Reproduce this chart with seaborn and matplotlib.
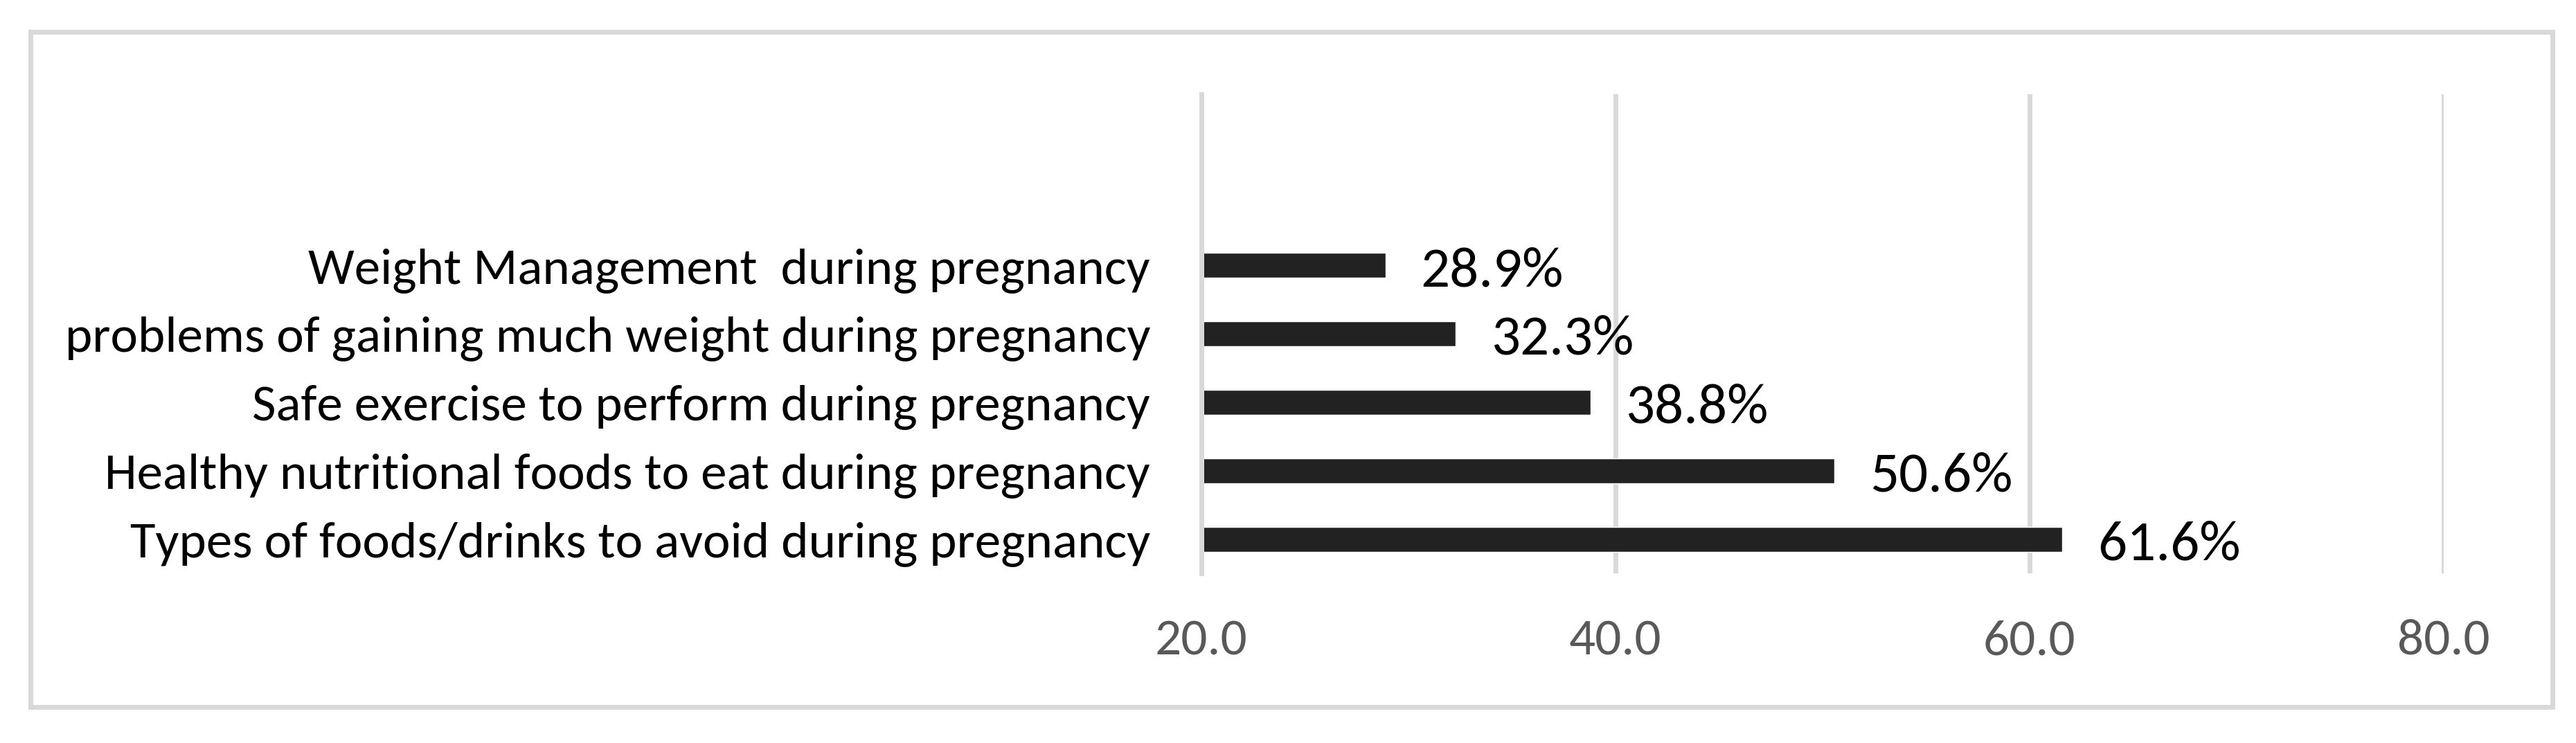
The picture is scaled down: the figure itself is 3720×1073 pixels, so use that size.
import matplotlib
matplotlib.use("Agg")
import matplotlib.pyplot as plt
import seaborn as sns
import pandas as pd
from matplotlib.font_manager import FontProperties
from matplotlib.textpath import TextPath
from matplotlib.patches import Rectangle

# ---- data ----
categories = [
    "Weight Management  during pregnancy",
    "problems of gaining much weight during pregnancy",
    "Safe exercise to perform during pregnancy",
    "Healthy nutritional foods to eat during pregnancy",
    "Types of foods/drinks to avoid during pregnancy",
]
values = [28.9, 32.3, 38.8, 50.6, 61.6]
value_labels = ["28.9%", "32.3%", "38.8%", "50.6%", "61.6%"]
x_ticks = [20.0, 40.0, 60.0, 80.0]
x_tick_labels = ["20.0", "40.0", "60.0", "80.0"]

df = pd.DataFrame({"topic": categories, "pct": values})

# ---- style ----
sns.set_theme(style="white")
FAMILY = ["Carlito", "Liberation Sans Narrow", "Lato", "DejaVu Sans"]
plt.rcParams["font.family"] = FAMILY

DPI = 100
W_PX, H_PX = 3720, 1073


def fit_size(text, target_px):
    fp = FontProperties(family=FAMILY)
    w1 = TextPath((0, 0), text, size=1, prop=fp).get_extents().width
    return target_px * 72.0 / (DPI * w1)


cat_size = fit_size(categories[1], 1561)
tick_size = fit_size(x_tick_labels[0], 128)
val_size = fit_size(value_labels[0], 200)

GRID = "#d9d9d9"
BAR = "#222222"

fig = plt.figure(figsize=(W_PX / DPI, H_PX / DPI), dpi=DPI)
fig.patch.set_facecolor("white")

# outer chart border
fig.patches.append(
    Rectangle((44 / W_PX, 1 - 1021 / H_PX), (3686 - 44) / W_PX, (1021 - 46) / H_PX,
              transform=fig.transFigure, fill=False, edgecolor=GRID,
              linewidth=7 * 72 / DPI, zorder=0)
)

ax = fig.add_axes([1734.5 / W_PX, 1 - 828 / H_PX,
                   (3528.5 - 1734.5) / W_PX, (828 - 136) / H_PX])

sns.barplot(data=df, x="pct", y="topic", orient="h", color=BAR,
            saturation=1, width=0.365, ax=ax, zorder=2)

ax.set_xlim(20, 80)
ax.set_ylim(4.5, -2.5)
ax.set_xticks(x_ticks)
ax.set_xticklabels(x_tick_labels)
ax.set_xlabel("")
ax.set_ylabel("")

ax.set_axisbelow(True)
ax.grid(axis="x", color=GRID, linewidth=7 * 72 / DPI)
ax.grid(axis="y", visible=False)
for s in ["top", "right", "bottom"]:
    ax.spines[s].set_visible(False)
ax.spines["left"].set_color(GRID)
ax.spines["left"].set_linewidth(7 * 72 / DPI)

ax.tick_params(axis="x", length=0, pad=48, labelsize=tick_size, labelcolor="#595959")
ax.tick_params(axis="y", length=0, pad=73.5 * 72 / DPI, labelsize=cat_size, labelcolor="black")

for i, (v, lab) in enumerate(zip(values, value_labels)):
    ax.annotate(lab, xy=(v, i), xytext=(51 * 72 / DPI, -30 * 72 / DPI),
                textcoords="offset points", ha="left", va="baseline",
                fontsize=val_size, color="black")

fig.savefig("out.png", dpi=DPI, facecolor="white")
